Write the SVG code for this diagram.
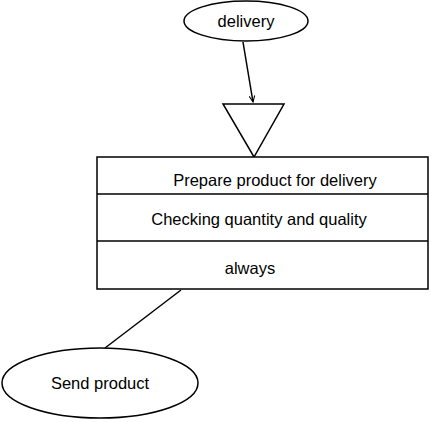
<svg xmlns="http://www.w3.org/2000/svg" width="431" height="422" viewBox="0 0 431 422">
<style>
.s{fill:#fff;stroke:#000;stroke-width:1.5}
.t{font-family:"Liberation Sans",Arial,sans-serif;font-size:16.5px;fill:#000;text-anchor:middle}
.c{stroke:#000;stroke-width:1.5;fill:none}
</style>
<defs>
<marker id="ah" viewBox="0 0 10 10" refX="9" refY="5" markerWidth="7" markerHeight="7" orient="auto" markerUnits="userSpaceOnUse">
<path d="M0,1 L9,5 L0,9" fill="none" stroke="#000" stroke-width="1.5"/>
</marker>
</defs>
<rect width="431" height="422" fill="#fff"/>
<g id="delivery">
<ellipse class="s" cx="246" cy="21" rx="62" ry="20"/>
<text class="t" x="246" y="27">delivery</text>
</g>
<g id="trigger">
<polygon class="s" points="223,104 284,104 254,157"/>
</g>
<g id="activity">
<rect class="s" x="97" y="157" width="331" height="132"/>
<line class="c" x1="97" y1="194" x2="428" y2="194"/>
<line class="c" x1="97" y1="241" x2="428" y2="241"/>
<text class="t" x="275" y="186">Prepare product for delivery</text>
<text class="t" x="259" y="225">Checking quantity and quality</text>
<text class="t" x="250" y="274">always</text>
</g>
<g id="send">
<ellipse class="s" cx="100" cy="383" rx="98" ry="35"/>
<text class="t" x="100" y="389">Send product</text>
</g>
<g id="connectors">
<line class="c" x1="243" y1="42" x2="253" y2="102" marker-end="url(#ah)"/>
<line class="c" x1="181" y1="290" x2="105" y2="348"/>
</g>
</svg>
